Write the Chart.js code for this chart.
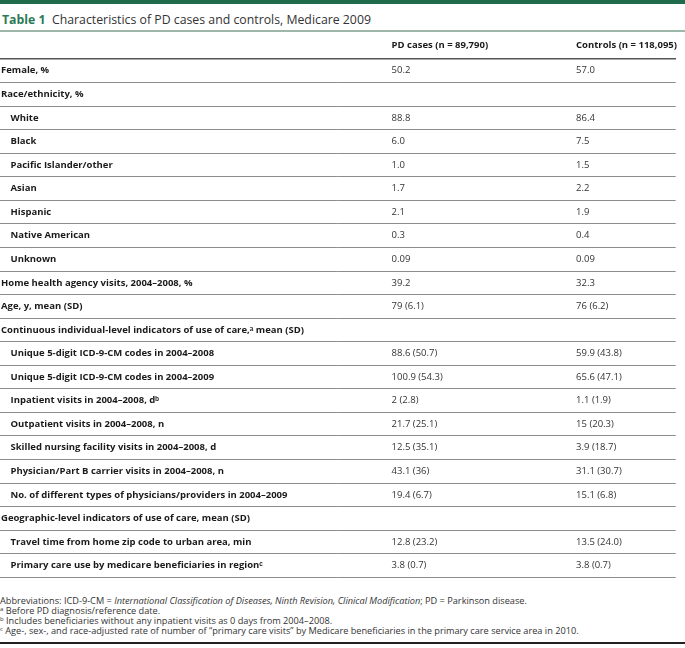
<!DOCTYPE html>
<html>
<head>
<meta charset="utf-8">
<title>Table 1 Characteristics of PD cases and controls, Medicare 2009</title>
<script src="https://cdn.jsdelivr.net/npm/chart.js@4.4.1/dist/chart.umd.min.js"></script>
<style>
  body { margin: 0; background: #fff; font-family: 'Open Sans', sans-serif; color: #333; }
  .page { position: relative; width: 685px; height: 648px; overflow: hidden; }
  .topbar { position: absolute; left: 0; top: 0; width: 685px; height: 4px; background: #1f6b4c; }
  .title { position: absolute; left: 2px; top: 9px; font-size: 12.3px; line-height: 22px; height: 22px; color: #333; white-space: nowrap; }
  .title b { color: #2b7a56; }
  .rule { position: absolute; left: 0; top: 30px; width: 685px; height: 1.5px; background: #9db8aa; }
  .table-wrap { position: absolute; left: 0; top: 32px; width: 685px; height: 552px; }
  .notes { position: absolute; left: 0; top: 596px; font-size: 9.2px; line-height: 10px; color: #333; white-space: nowrap; }
  .notes sup { font-size: 6px; line-height: 0; vertical-align: 3px; }
  .bottom { position: absolute; left: 0; top: 642px; width: 685px; height: 2px; background: #222; }
</style>
</head>
<body>
<div class="page">
  <div class="topbar"></div>
  <div class="title"><b>Table 1</b>&nbsp; Characteristics of PD cases and controls, Medicare 2009</div>
  <div class="rule"></div>
  <div class="table-wrap"><canvas id="tableChart"></canvas></div>
  <div class="notes">
    <div>Abbreviations: ICD-9-CM = <i>International Classification of Diseases, Ninth Revision, Clinical Modification</i>; PD = Parkinson disease.</div>
    <div><sup>a</sup> Before PD diagnosis/reference date.</div>
    <div><sup>b</sup> Includes beneficiaries without any inpatient visits as 0 days from 2004–2008.</div>
    <div><sup>c</sup> Age-, sex-, and race-adjusted rate of number of “primary care visits” by Medicare beneficiaries in the primary care service area in 2010.</div>
  </div>
  <div class="bottom"></div>
</div>
<script>
// --- table content ---
const rowLabels = [
    'Female, %',
    'Race/ethnicity, %',
    'White',
    'Black',
    'Pacific Islander/other',
    'Asian',
    'Hispanic',
    'Native American',
    'Unknown',
    'Home health agency visits, 2004–2008, %',
    'Age, y, mean (SD)',
    'Continuous individual-level indicators of use of care,\u1d43 mean (SD)',
    'Unique 5-digit ICD-9-CM codes in 2004–2008',
    'Unique 5-digit ICD-9-CM codes in 2004–2009',
    'Inpatient visits in 2004–2008, d\u1d47',
    'Outpatient visits in 2004–2008, n',
    'Skilled nursing facility visits in 2004–2008, d',
    'Physician/Part B carrier visits in 2004–2008, n',
    'No. of different types of physicians/providers in 2004–2009',
    'Geographic-level indicators of use of care, mean (SD)',
    'Travel time from home zip code to urban area, min',
    'Primary care use by medicare beneficiaries in region\u1d9c'
];
// 0 = section row, 1 = indented sub row
const rowLevel = [0, 0, 1, 1, 1, 1, 1, 1, 1, 0, 0, 0, 1, 1, 1, 1, 1, 1, 1, 0, 1, 1];

const columnHeaders = ['PD cases (n = 89,790)', 'Controls (n = 118,095)'];

const pdCases = [
    '50.2', '', '88.8', '6.0', '1.0', '1.7', '2.1', '0.3', '0.09',
    '39.2', '79 (6.1)', '',
    '88.6 (50.7)', '100.9 (54.3)', '2 (2.8)', '21.7 (25.1)', '12.5 (35.1)', '43.1 (36)', '19.4 (6.7)',
    '', '12.8 (23.2)', '3.8 (0.7)'
];
const controls = [
    '57.0', '', '86.4', '7.5', '1.5', '2.2', '1.9', '0.4', '0.09',
    '32.3', '76 (6.2)', '',
    '59.9 (43.8)', '65.6 (47.1)', '1.1 (1.9)', '15 (20.3)', '3.9 (18.7)', '31.1 (30.7)', '15.1 (6.8)',
    '', '13.5 (24.0)', '3.8 (0.7)'
];

// where each value column starts, as a fraction of the table width
const columnStart = [0.5796, 0.8526];

Chart.defaults.font.family = "'Open Sans', sans-serif";
Chart.defaults.font.size = 9.5;

// draws the cell strings at the (invisible) points of each column
const cellText = {
    id: 'cellText',
    afterDatasetsDraw(chart) {
        const ctx = chart.ctx;
        ctx.save();
        ctx.font = "9.5px 'Open Sans', sans-serif";
        ctx.fillStyle = '#333';
        ctx.textAlign = 'left';
        ctx.textBaseline = 'middle';
        chart.data.datasets.forEach((ds, d) => {
            chart.getDatasetMeta(d).data.forEach((pt, i) => {
                const txt = ds.cellText[i];
                if (txt) ctx.fillText(txt, pt.x, pt.y);
            });
        });
        ctx.restore();
    }
};

const columnData = [pdCases, controls];

new Chart(document.getElementById('tableChart'), {
    type: 'scatter',
    data: {
        datasets: columnData.map((vals, c) => ({
            label: columnHeaders[c],
            data: rowLabels.map((r) => ({ x: columnStart[c], y: r })),
            cellText: vals,
            pointRadius: 0,
            pointHoverRadius: 0
        }))
    },
    options: {
        responsive: true,
        maintainAspectRatio: false,
        animation: false,
        events: [],
        layout: { autoPadding: false, padding: { left: 0, right: 0, top: 0, bottom: 1 } },
        plugins: {
            legend: { display: false },
            tooltip: { enabled: false }
        },
        scales: {
            x: {
                type: 'linear',
                position: 'top',
                min: 0,
                max: 1,
                afterBuildTicks: (s) => { s.ticks = columnStart.map(v => ({ value: v })); },
                afterFit: (s) => { s.height = 27; },
                grid: { display: false, drawTicks: false },
                border: { display: true, color: '#555', width: 1.5 },
                ticks: {
                    align: 'start',
                    padding: 8,
                    maxRotation: 0,
                    autoSkip: false,
                    color: '#1a1a1a',
                    font: { size: 9.5, weight: 'bold' },
                    callback: (v, i) => columnHeaders[i]
                }
            },
            y: {
                type: 'category',
                labels: rowLabels,
                offset: true,
                afterFit: (s) => { s.width = 0; },
                border: { display: false },
                grid: {
                    offset: true,
                    drawTicks: false,
                    lineWidth: 1,
                    color: (ctx) => ctx.index === 0 ? 'rgba(0,0,0,0)' : '#8c8c8c'
                },
                ticks: {
                    mirror: true,
                    padding: 1,
                    autoSkip: false,
                    color: '#1a1a1a',
                    font: { size: 9.5, weight: 'bold' },
                    callback: (v, i) => (rowLevel[i] ? '\u2003' : '') + rowLabels[i]
                }
            }
        }
    },
    plugins: [cellText]
});
</script>
</body>
</html>
